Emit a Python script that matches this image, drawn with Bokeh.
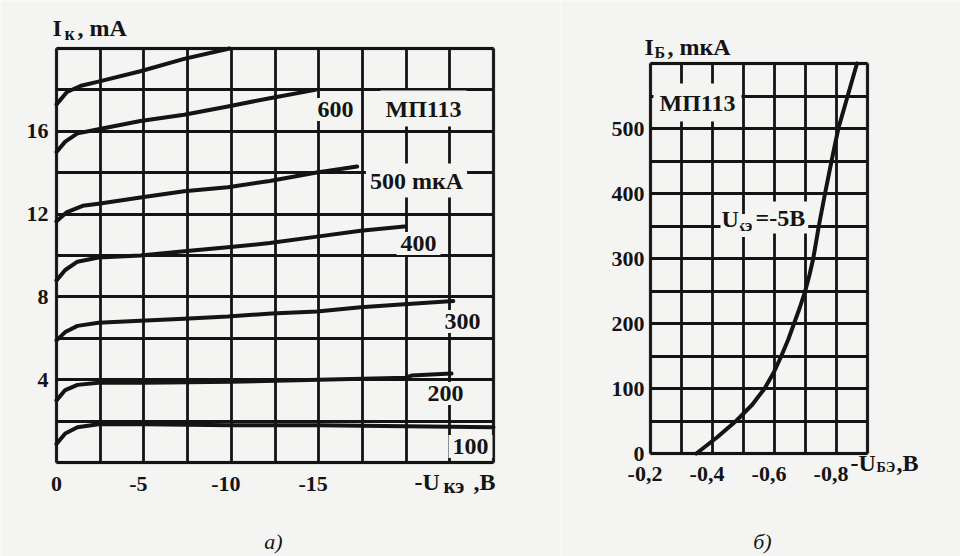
from bokeh.plotting import figure
from bokeh.layouts import row
from bokeh.models import Range1d, FixedTicker, Label, BoxAnnotation
from bokeh.embed import file_html
from bokeh.resources import INLINE

# ---------------- data: a) output characteristics Ik(-Uke) for several Ib (mkA) ----------------
ib_labels = ["100", "200", "300", "400", "500 mкА", "600"]

u_100 = [0, -0.5, -1.2, -2.4, -5, -10, -15, -20, -25]
i_100 = [0.9, 1.4, 1.7, 1.85, 1.85, 1.8, 1.8, 1.75, 1.7]

u_200 = [0, -0.5, -1.2, -2.4, -5, -10, -15, -20, -20.3, -22.6]
i_200 = [3.0, 3.5, 3.75, 3.85, 3.85, 3.9, 4.0, 4.1, 4.2, 4.3]

u_300 = [0, -0.5, -1.2, -2.4, -4.8, -7.3, -9.8, -12.3, -14.9, -17.4, -19.9, -22.7]
i_300 = [5.9, 6.3, 6.6, 6.75, 6.85, 6.95, 7.05, 7.2, 7.3, 7.5, 7.65, 7.8]

u_400 = [0, -0.5, -1.2, -2.4, -4.8, -7.3, -9.8, -12.2, -14.8, -17.4, -19.9]
i_400 = [8.8, 9.3, 9.7, 9.9, 10.0, 10.2, 10.4, 10.6, 10.9, 11.2, 11.4]

u_500 = [0, -0.6, -1.5, -2.4, -4.8, -7.3, -9.8, -12.2, -14.8, -17.2]
i_500 = [11.65, 12.1, 12.4, 12.5, 12.8, 13.1, 13.3, 13.6, 14.0, 14.3]

u_600 = [0, -0.5, -1.2, -2.4, -4.8, -7.3, -9.8, -12.2, -14.8]
i_600 = [15.0, 15.5, 15.9, 16.1, 16.5, 16.8, 17.2, 17.6, 18.0]

u_700 = [0, -0.6, -1.4, -2.4, -4.8, -7.3, -9.9]
i_700 = [17.3, 17.9, 18.2, 18.4, 18.9, 19.5, 20.0]

left_xticks = [0, -5, -10, -15]
left_xtick_labels = ["0", "-5", "-10", "-15"]
left_yticks = [4, 8, 12, 16]

# ---------------- data: b) input characteristic Ib(-Ube), Uke = -5 V ----------------
u_be = [-0.348, -0.415, -0.476, -0.528, -0.568, -0.598, -0.622, -0.644, -0.663,
        -0.682, -0.699, -0.713, -0.725, -0.743, -0.763, -0.784, -0.806, -0.836, -0.866]
i_b = [0, 25, 50, 75, 100, 125, 150, 175, 200,
       225, 250, 275, 300, 350, 400, 450, 500, 550, 600]

right_xticks = [-0.2, -0.4, -0.6, -0.8]
right_xtick_labels = ["-0,2", "-0,4", "-0,6", "-0,8"]
right_yticks = [0, 100, 200, 300, 400, 500]

PAPER = "#f4f4f2"
INK = "#141414"
SERIF = "Liberation Serif"
H = 556
HANG = "\u2002"  # the printed negative tick numbers sit with their minus sign hanging left


def build(W, page_x0, cx0, cx1, cy_top, cy_bot, ux0, ux1, vy0, vy1, xgrid, ygrid):
    """Figure whose frame fills the canvas; the chart box sits at the given pixel rectangle."""
    sx = (ux1 - ux0) / (cx1 - cx0)
    sy = (vy1 - vy0) / (cy_bot - cy_top)

    def to_x(px):
        return ux0 + (px - page_x0 - cx0) * sx

    def to_y(py):
        return vy0 + (cy_bot - py) * sy

    p = figure(width=W, height=H, title=None, output_backend="svg", toolbar_location=None,
               x_range=Range1d(to_x(page_x0), to_x(page_x0 + W)),
               y_range=Range1d(to_y(H), to_y(0)),
               min_border_left=0, min_border_right=0, min_border_top=0, min_border_bottom=0)
    p.background_fill_color = PAPER
    p.border_fill_color = PAPER
    p.outline_line_color = None

    xlo, xhi = min(ux0, ux1), max(ux0, ux1)
    p.xgrid.ticker = FixedTicker(ticks=xgrid)
    p.xgrid.bounds = (xlo, xhi)
    p.xgrid.cross_bounds = (vy0, vy1)
    p.ygrid.ticker = FixedTicker(ticks=ygrid)
    p.ygrid.bounds = (vy0, vy1)
    p.ygrid.cross_bounds = (xlo, xhi)
    for g in (p.xgrid[0], p.ygrid[0]):
        g.grid_line_color = INK
        g.grid_line_width = 2.8

    p.xaxis.fixed_location = vy0
    p.yaxis.fixed_location = ux0
    p.xaxis.bounds = (xlo, xhi)
    p.yaxis.bounds = (vy0, vy1)
    for ax in (p.xaxis[0], p.yaxis[0]):
        ax.axis_line_color = None
        ax.major_tick_line_color = None
        ax.minor_tick_line_color = None
        ax.major_tick_out = 0
        ax.major_tick_in = 0
        ax.minor_tick_out = 0
        ax.major_label_text_font = SERIF
        ax.major_label_text_font_style = "bold"
        ax.major_label_text_font_size = "22px"
        ax.major_label_text_color = INK

    p.add_layout(BoxAnnotation(left=ux0, right=ux1, bottom=vy0, top=vy1,
                               fill_color=None, fill_alpha=0,
                               line_color=INK, line_width=3.6))
    return p, to_x, to_y


def add_text(p, conv, px, py, text, size="24px", align="center", style="bold", pad=None):
    to_x, to_y = conv
    kw = {}
    if pad is not None:
        kw = dict(background_fill_color=PAPER, background_fill_alpha=1.0, padding=pad)
    p.add_layout(Label(x=to_x(px), y=to_y(py), text=text, text_font=SERIF,
                       text_font_style=style, text_font_size=size, text_color=INK,
                       text_align=align, text_baseline="middle", **kw))


def tick_text(labels):
    return [t + HANG if t.startswith("-") else t for t in labels]


# ---------------- figure a) ----------------
p1, lx, ly = build(560, 0, 56, 493, 48, 462, 0.0, -25.0, 0.0, 20.0,
                   xgrid=[-2.5 * k for k in range(11)], ygrid=[2 * k for k in range(11)])
LC = (lx, ly)
p1.xaxis.ticker = FixedTicker(ticks=left_xticks)
p1.xaxis.major_label_overrides = dict(zip(left_xticks, tick_text(left_xtick_labels)))
p1.xaxis.major_label_standoff = 8
p1.yaxis.ticker = FixedTicker(ticks=left_yticks)
p1.yaxis.major_label_standoff = 8

for u, i in [(u_100, i_100), (u_200, i_200), (u_300, i_300), (u_400, i_400),
             (u_500, i_500), (u_600, i_600), (u_700, i_700)]:
    p1.line(u, i, line_color=INK, line_width=4, line_join="round", line_cap="round")

label_pos_left = [(470, 446), (445, 393), (462, 321), (418, 243), (416, 180), (335, 109)]
for (px, py), t in zip(label_pos_left, ib_labels):
    add_text(p1, LC, px, py, t, pad=4)
add_text(p1, LC, 423, 108, "МП113", pad=5)

add_text(p1, LC, 52, 27, "I", align="left")
add_text(p1, LC, 64, 33, "к", size="18px", align="left")
add_text(p1, LC, 77, 27, ", mA", align="left")
add_text(p1, LC, 414, 481, "-U", align="left")
add_text(p1, LC, 443, 485, "кэ", size="21px", align="left")
add_text(p1, LC, 473, 481, ",B", align="left")
add_text(p1, LC, 273, 541, "а)", size="22px", style="italic")

# ---------------- figure b) ----------------
p2, rx, ry = build(400, 560, 90, 307, 63, 453, -0.2, -0.9, 0.0, 600.0,
                   xgrid=[-0.2 - 0.1 * k for k in range(8)], ygrid=[50 * k for k in range(13)])
RC = (rx, ry)
p2.xaxis.ticker = FixedTicker(ticks=right_xticks)
p2.xaxis.major_label_overrides = dict(zip(right_xticks, tick_text(right_xtick_labels)))
p2.xaxis.major_label_standoff = 7
p2.yaxis.ticker = FixedTicker(ticks=right_yticks)
p2.yaxis.major_label_standoff = 6

p2.line(u_be, i_b, line_color=INK, line_width=4, line_join="round", line_cap="round")

add_text(p2, RC, 697, 102, "МП113", pad=6)
add_text(p2, RC, 733, 225, "кэ", size="17px", align="left", pad=2)
add_text(p2, RC, 752, 217, "=-5B", align="left", pad=3)
add_text(p2, RC, 720, 218, "U", align="left", pad=1)

add_text(p2, RC, 644, 46, "I", align="left")
add_text(p2, RC, 654, 52, "Б", size="16px", align="left")
add_text(p2, RC, 667, 46, ", mкА", align="left")
add_text(p2, RC, 850, 462, "-U", align="left")
add_text(p2, RC, 876, 467, "БЭ", size="14px", align="left")
add_text(p2, RC, 896, 462, ",B", align="left")
add_text(p2, RC, 762, 541, "б)", size="22px", style="italic")

layout = row(p1, p2, spacing=0)
open("out.html", "w").write(file_html(layout, INLINE))
